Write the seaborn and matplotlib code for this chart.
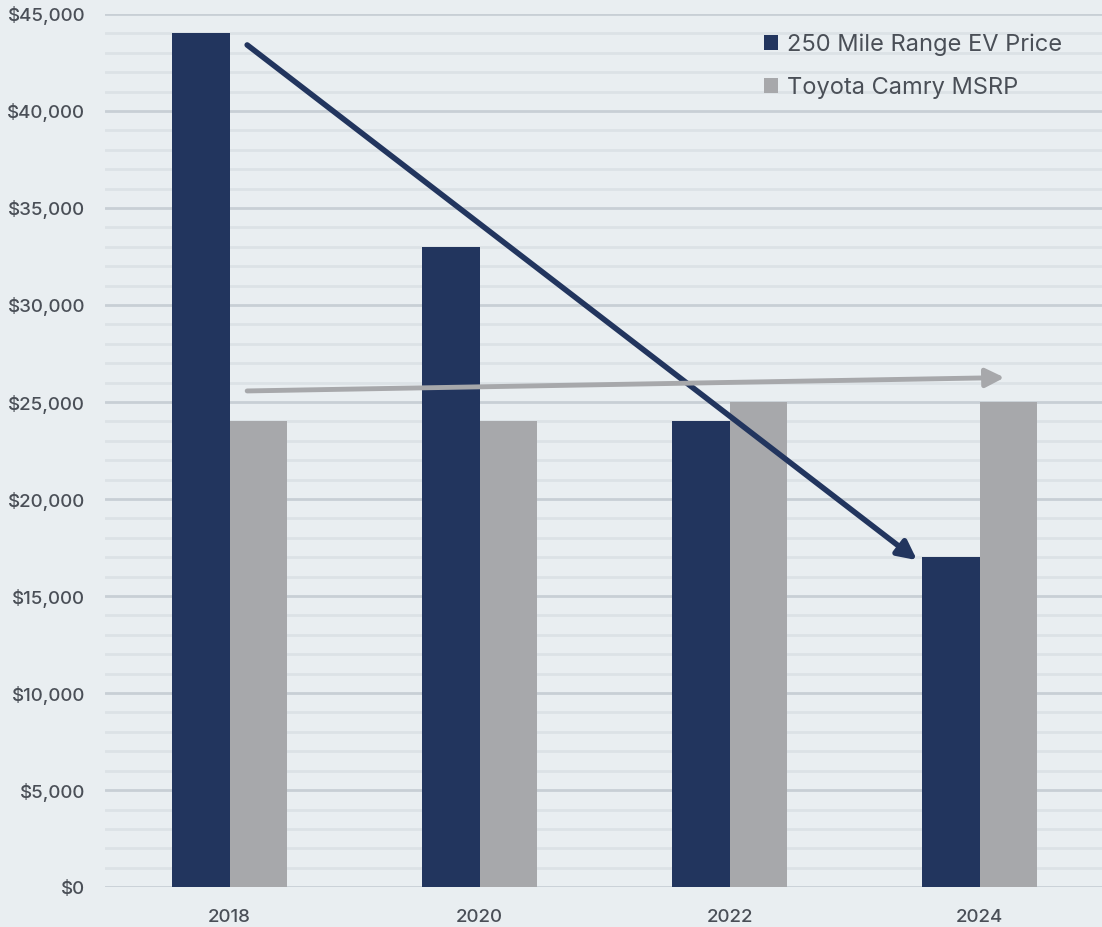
import matplotlib
matplotlib.use("Agg")
import matplotlib.pyplot as plt
import seaborn as sns
import pandas as pd
from matplotlib.ticker import MultipleLocator, FuncFormatter

# Data
years = ["2018", "2020", "2022", "2024"]
ev_price = [44000, 33000, 24000, 17000]
camry_msrp = [24000, 24000, 25000, 25000]
series_names = ["250 Mile Range EV Price", "Toyota Camry MSRP"]
series_colors = ["#22355e", "#a7a8ab"]

# Trend arrows (start, end) in data units: (category position, price)
ev_trend = [(0.07, 43400), (2.75, 16850)]
camry_trend = [(0.07, 25570), (3.10, 26260)]

df = pd.DataFrame({
    "year": years * 2,
    "price": ev_price + camry_msrp,
    "series": [series_names[0]] * len(years) + [series_names[1]] * len(years),
})

bg = "#e9eef1"
text_color = "#4a4f57"

sns.set_theme(style="white")
plt.rcParams["font.family"] = ["Inter", "DejaVu Sans"]

fig = plt.figure(figsize=(11.02, 9.27), dpi=100, facecolor=bg)
ax = fig.add_axes([0.095, 0.043, 0.905, 0.942], facecolor=bg)

sns.barplot(data=df, x="year", y="price", hue="series", hue_order=series_names,
            palette=series_colors, width=0.46, saturation=1, ax=ax, zorder=3,
            linewidth=0)

ax.set_ylim(0, 45000)
ax.set_xlim(-0.5, 3.49)
ax.yaxis.set_major_locator(MultipleLocator(5000))
ax.yaxis.set_minor_locator(MultipleLocator(1000))
ax.yaxis.set_major_formatter(FuncFormatter(lambda v, p: f"${v:,.0f}"))
ax.grid(axis="y", which="major", color="#c8cfd5", linewidth=2, zorder=0)
ax.grid(axis="y", which="minor", color="#dce2e6", linewidth=2, zorder=0)
ax.set_axisbelow(True)
for s in ax.spines.values():
    s.set_visible(False)
ax.tick_params(axis="y", which="both", length=0, pad=14, labelsize=13.5, labelcolor=text_color)
ax.tick_params(axis="x", length=0, pad=16, labelsize=13.5, labelcolor=text_color)
for lbl in ax.get_xticklabels() + ax.get_yticklabels():
    lbl.set_fontweight("medium")
ax.set_xlabel("")
ax.set_ylabel("")

# Trend arrows
ax.annotate("", xy=ev_trend[1], xytext=ev_trend[0], zorder=5,
            arrowprops=dict(arrowstyle="-|>", color=series_colors[0], lw=4,
                            mutation_scale=28, shrinkA=0, shrinkB=0))
ax.annotate("", xy=camry_trend[1], xytext=camry_trend[0], zorder=5,
            arrowprops=dict(arrowstyle="-|>", color=series_colors[1], lw=3.5,
                            mutation_scale=28, shrinkA=0, shrinkB=0))

leg = ax.legend(loc="upper right", bbox_to_anchor=(0.981, 1.002), frameon=False,
                fontsize=17, handlelength=0.6, handleheight=0.6, handletextpad=0.35,
                labelspacing=0.9, labelcolor=text_color)

fig.savefig("out.png", dpi=100, facecolor=bg)
